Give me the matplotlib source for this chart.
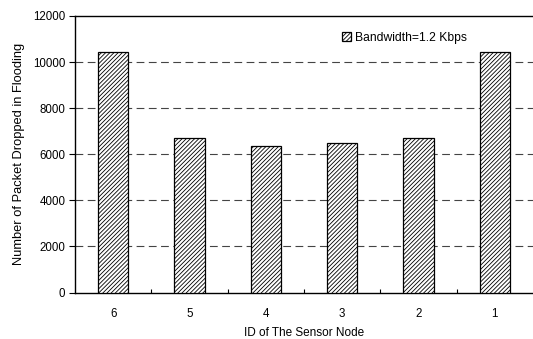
import matplotlib
matplotlib.use("Agg")
import matplotlib.pyplot as plt
import numpy as np

node_ids = ["6", "5", "4", "3", "2", "1"]
dropped = [10430, 6690, 6340, 6480, 6690, 10430]
legend_label = "Bandwidth=1.2 Kbps"

plt.rcParams['font.family'] = ['Liberation Sans', 'DejaVu Sans']
plt.rcParams['hatch.linewidth'] = 0.6

fig = plt.figure(figsize=(5.33, 3.39), dpi=100)
ax = fig.add_axes([75/533, 46.5/339, 458/533, 276.5/339])

x = np.arange(len(node_ids))
ax.bar(x, dropped, width=0.4, color="white", edgecolor="black", linewidth=0.9,
       hatch="/" * 8, label=legend_label, zorder=3)

ax.set_xlim(-0.5, len(node_ids) - 0.5)
ax.set_ylim(0, 12000)
ax.set_yticks(np.arange(0, 12001, 2000))
ax.set_xticks(x)
ax.set_xticklabels(node_ids)
ax.set_xticks(np.arange(0.5, len(node_ids) - 0.5, 1), minor=True)
ax.tick_params(axis="x", which="major", length=0, pad=11, labelsize=8.3)
ax.tick_params(axis="x", which="minor", direction="in", length=3, width=0.8)
ax.tick_params(axis="y", direction="out", length=4, width=0.8, labelsize=8.3, pad=3)

# dashed guide lines behind the bars
for y in range(2000, 12000, 2000):
    ax.axhline(y, color="#444444", linewidth=0.8, dashes=(7, 4), zorder=1)

ax.spines["right"].set_visible(False)
for s in ["left", "bottom", "top"]:
    ax.spines[s].set_linewidth(1.0)

ax.set_ylabel("Number of Packet Dropped in Flooding", fontsize=9.3)
ax.yaxis.set_label_coords(-0.109, 0.5)
ax.set_xlabel("ID of The Sensor Node", fontsize=8.5)
ax.xaxis.set_label_coords(0.5, -0.125)

ax.legend(loc="center left", bbox_to_anchor=(0.57, 0.922), frameon=False,
          handlelength=0.7, handleheight=0.7, handletextpad=0.4,
          borderpad=0, fontsize=8.7)

fig.savefig("out.png", dpi=100)
